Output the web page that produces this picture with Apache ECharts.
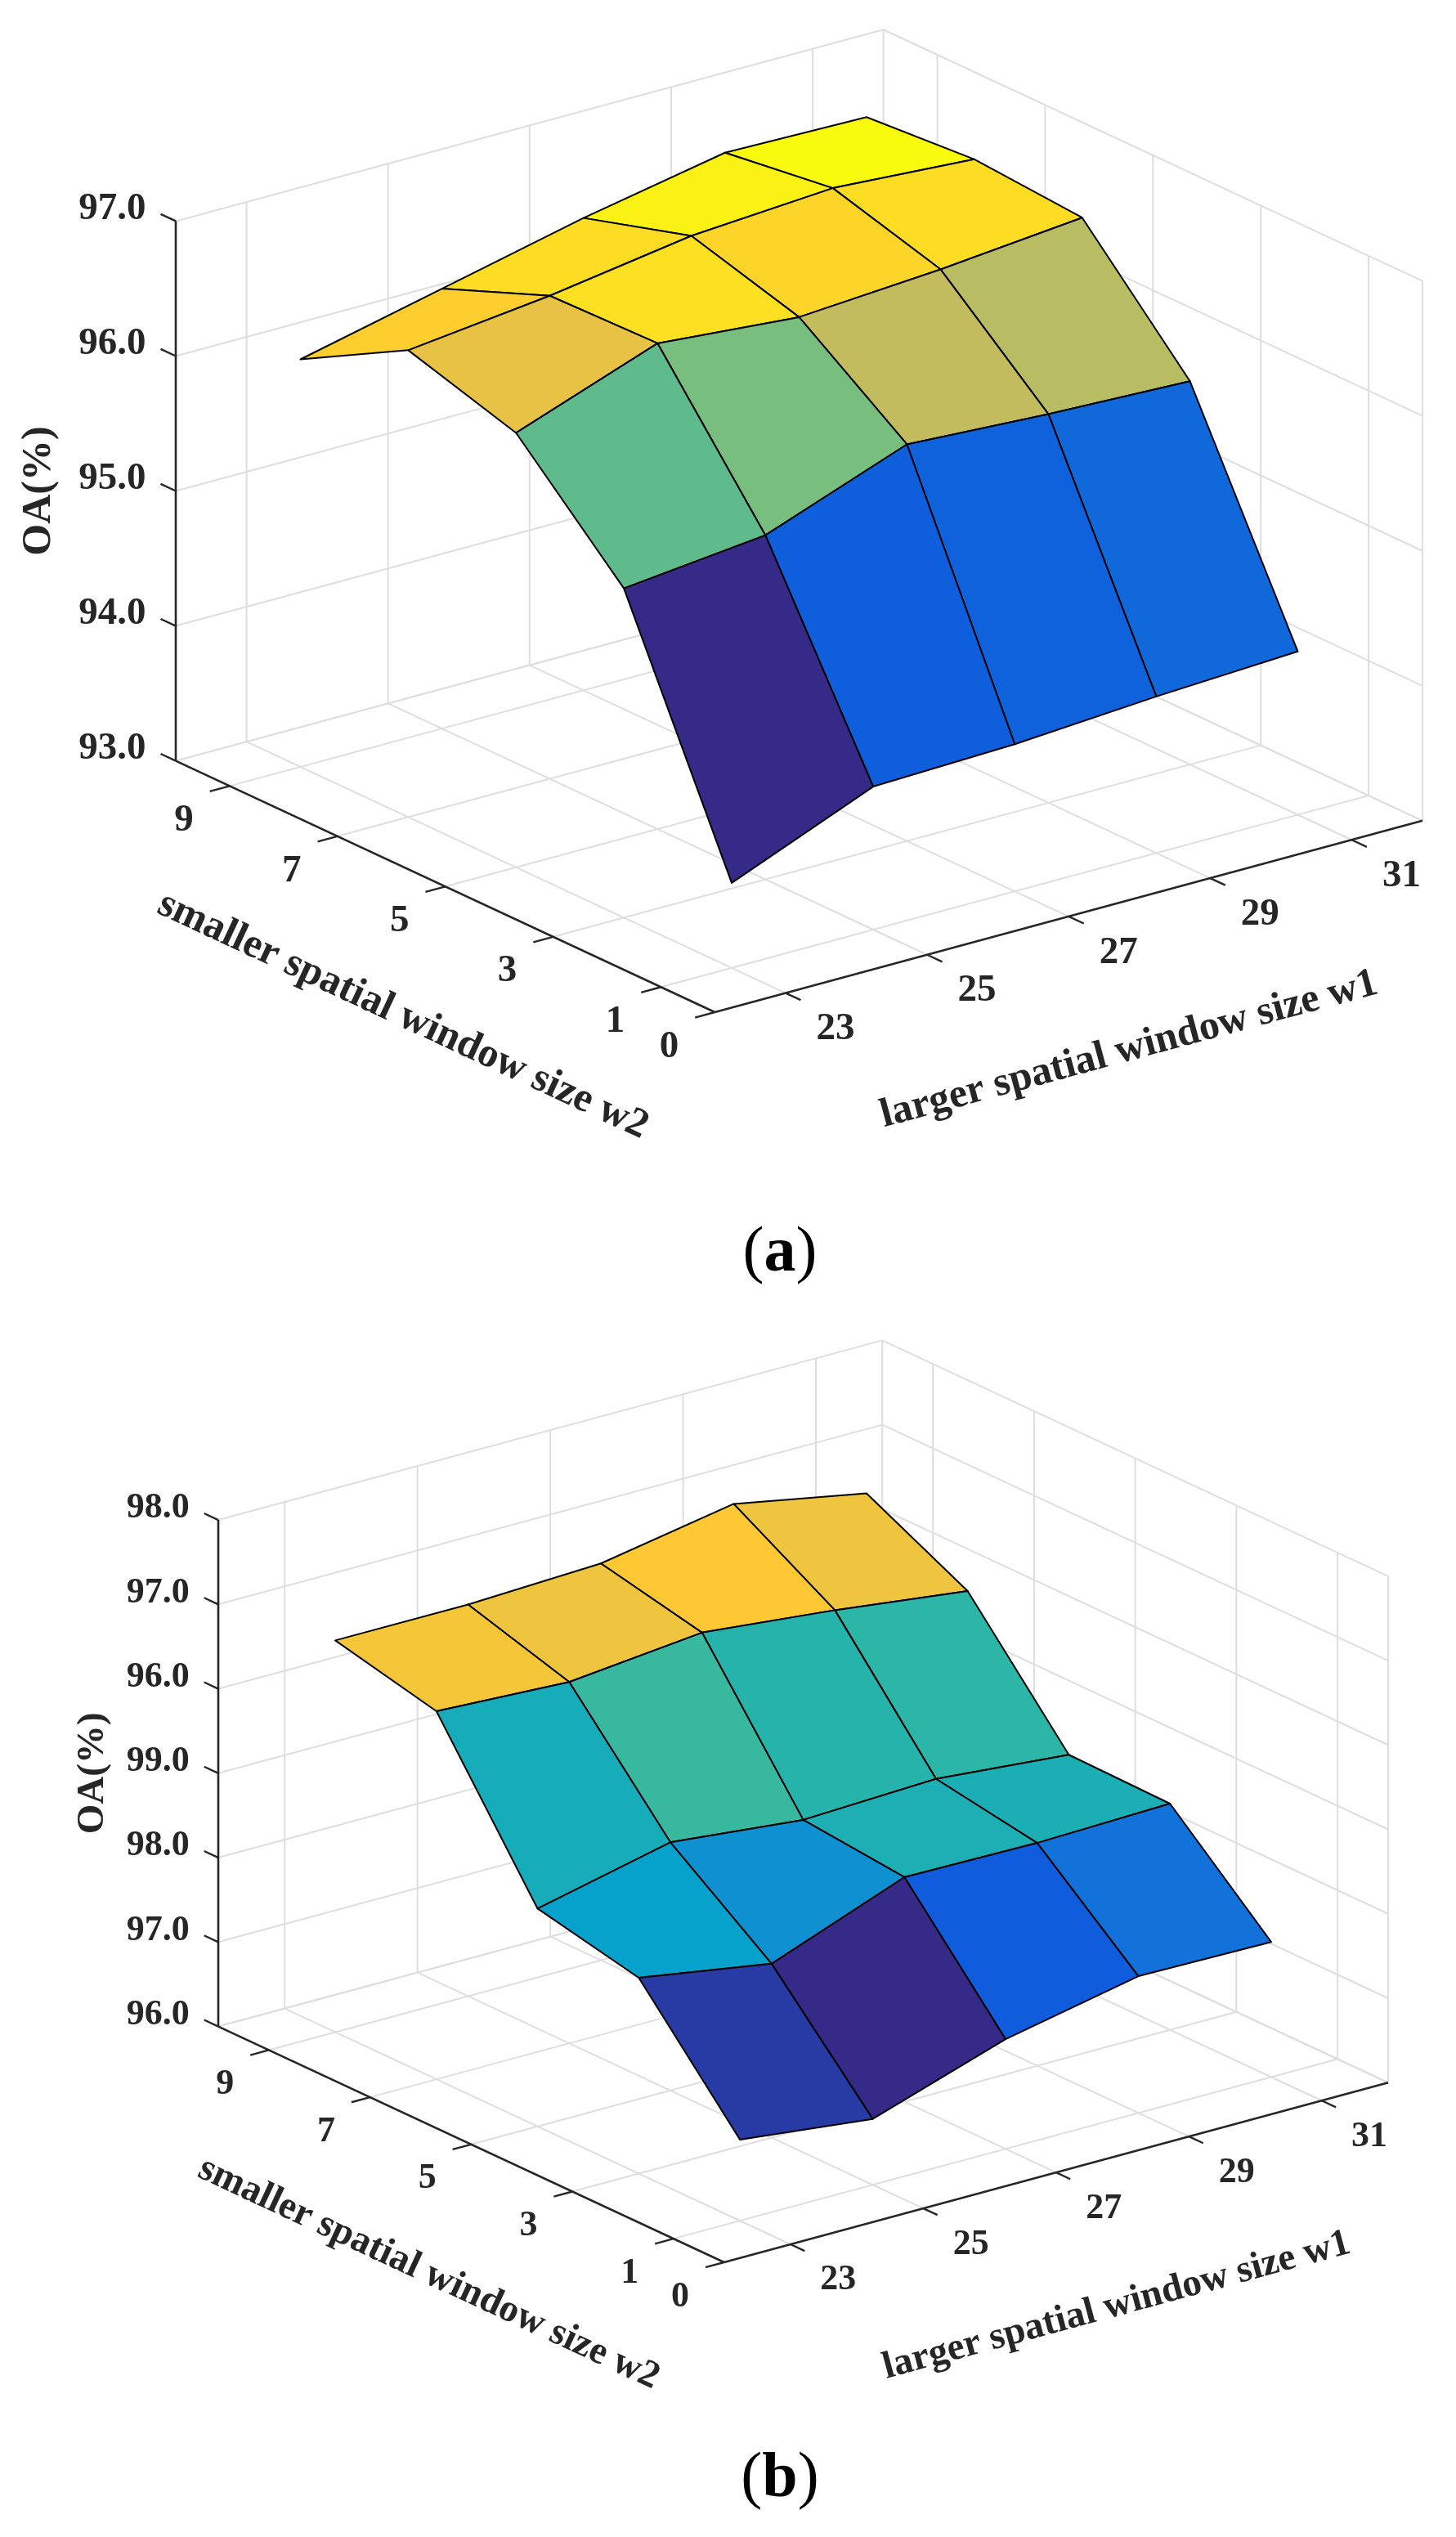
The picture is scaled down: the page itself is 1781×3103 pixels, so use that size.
<!DOCTYPE html>
<html>
<head>
<meta charset="utf-8">
<title>OA surface</title>
<script src="https://cdn.jsdelivr.net/npm/echarts@6/dist/echarts.min.js"></script>
<style>
  html, body { margin: 0; padding: 0; background: #ffffff; }
  #main { width: 1781px; height: 3103px; }
</style>
</head>
<body>
<div id="main"></div>
<script>
// ------------------------------
// Data
// ------------------------------
var w1Values = [23, 25, 27, 29, 31];   // larger spatial window size w1
var w2Values = [1, 3, 5, 7, 9];        // smaller spatial window size w2

// (a) OA(%) rows, one row per w2, along w1
var oaA_w2_1 = [93.63, 94.06, 94.09, 94.16, 94.21];
var oaA_w2_3 = [95.44, 95.55, 95.94, 95.88, 95.84];
var oaA_w2_5 = [96.22, 96.60, 96.51, 96.58, 96.68];
var oaA_w2_7 = [96.46, 96.58, 96.74, 96.81, 96.74];
var oaA_w2_9 = [96.02, 96.26, 96.50, 96.70, 96.68];

// (b) OA(%) rows
var oaB_w2_1 = [96.48, 96.39, 96.65, 96.81, 96.80];
var oaB_w2_3 = [97.16, 97.03, 97.33, 97.32, 97.34];
var oaB_w2_5 = [97.29, 97.47, 97.39, 97.42, 97.35];
var oaB_w2_7 = [98.18, 98.14, 98.22, 98.14, 98.04];
var oaB_w2_9 = [98.32, 98.32, 98.35, 98.49, 98.34];

// ticks
var w1Ticks = [23, 25, 27, 29, 31];
var w2Ticks = [0, 1, 3, 5, 7, 9];
var zTicksA = [93, 94, 95, 96, 97];
var zLabelsA = ['93.0', '94.0', '95.0', '96.0', '97.0'];
var zTicksB = [96, 96.5, 97, 97.5, 98, 98.5, 99];
var zLabelsB = ['96.0', '97.0', '98.0', '99.0', '96.0', '97.0', '98.0'];

// parula colormap
var parula = ['#352a87', '#0f5cdd', '#1481d6', '#06a4ca', '#2eb7a4',
              '#87bf77', '#d1bb59', '#fec832', '#f9fb0e'];

var FONT = '"Liberation Serif", "Times New Roman", serif';
var W1_MIN = 22, W1_MAX = 32, W2_MIN = 0, W2_MAX = 10;

// view (matlab-like orthographic camera)
var AZ = -37.3 * Math.PI / 180;
var EL = 20.8 * Math.PI / 180;
var HZ = 0.649;
var cosA = Math.cos(AZ), sinA = Math.sin(AZ);
var viewW = cosA - sinA;
var viewH = viewW * Math.sin(EL) + HZ * Math.cos(EL);
var TL = 0.028;

var panels = [
    {
        rows: [oaA_w2_1, oaA_w2_3, oaA_w2_5, oaA_w2_7, oaA_w2_9],
        zTicks: zTicksA, zLabels: zLabelsA, zMin: 93, zMax: 97,
        left: 215, bottom: 1238, width: 1525,
        tickFont: 47, titleFont: 50, zTitleDx: -167,
        caption: 'a', captionY: 1534
    },
    {
        rows: [oaB_w2_1, oaB_w2_3, oaB_w2_5, oaB_w2_7, oaB_w2_9],
        zTicks: zTicksB, zLabels: zLabelsB, zMin: 96, zMax: 99,
        left: 267, bottom: 2767, width: 1431,
        tickFont: 44, titleFont: 47, zTitleDx: -153,
        caption: 'b', captionY: 3033
    }
];

function project(p, w1, w2, z) {
    var u = (w1 - W1_MIN) / (W1_MAX - W1_MIN);
    var v = (w2 - W2_MIN) / (W2_MAX - W2_MIN);
    var t = (z - p.zMin) / (p.zMax - p.zMin);
    return [u * cosA + v * sinA,
            (-u * sinA + v * cosA) * Math.sin(EL) + t * HZ * Math.cos(EL)];
}

var grids = [], xAxes = [], yAxes = [], series = [], visualMaps = [], graphics = [];

panels.forEach(function (p, k) {
    var h = p.width * viewH / viewW;
    grids.push({ left: p.left, top: p.bottom - h, width: p.width, height: h });
    xAxes.push({ type: 'value', gridIndex: k, min: sinA, max: cosA, show: false });
    yAxes.push({ type: 'value', gridIndex: k, min: 0, max: viewH, show: false });

    function P(api, w1, w2, z) { return api.coord(project(p, w1, w2, z)); }

    // box grid lines + axis lines
    var segs = [];
    w1Ticks.forEach(function (t) {
        segs.push([0, t, W2_MIN, p.zMin, t, W2_MAX, p.zMin]);
        segs.push([0, t, W2_MAX, p.zMin, t, W2_MAX, p.zMax]);
    });
    w2Ticks.forEach(function (t) {
        if (t !== W2_MIN) segs.push([0, W1_MIN, t, p.zMin, W1_MAX, t, p.zMin]);
        segs.push([0, W1_MAX, t, p.zMin, W1_MAX, t, p.zMax]);
    });
    p.zTicks.forEach(function (t) {
        segs.push([0, W1_MIN, W2_MAX, t, W1_MAX, W2_MAX, t]);
        segs.push([0, W1_MAX, W2_MIN, t, W1_MAX, W2_MAX, t]);
    });
    segs.push([0, W1_MAX, W2_MIN, p.zMin, W1_MAX, W2_MAX, p.zMin]);
    segs.push([0, W1_MIN, W2_MAX, p.zMin, W1_MAX, W2_MAX, p.zMin]);
    segs.push([0, W1_MAX, W2_MAX, p.zMin, W1_MAX, W2_MAX, p.zMax]);
    // dark axes
    segs.push([1, W1_MIN, W2_MAX, p.zMin, W1_MIN, W2_MAX, p.zMax]);
    segs.push([1, W1_MIN, W2_MIN, p.zMin, W1_MIN, W2_MAX, p.zMin]);
    segs.push([1, W1_MIN, W2_MIN, p.zMin, W1_MAX, W2_MIN, p.zMin]);

    series.push({
        type: 'custom', xAxisIndex: k, yAxisIndex: k, z: 1, silent: true,
        data: segs,
        renderItem: function (params, api) {
            var a = P(api, api.value(1), api.value(2), api.value(3));
            var b = P(api, api.value(4), api.value(5), api.value(6));
            var dark = api.value(0) === 1;
            return {
                type: 'line',
                z2: dark ? 5 : 1,
                shape: { x1: a[0], y1: a[1], x2: b[0], y2: b[1] },
                style: { stroke: dark ? '#262626' : '#dedede', lineWidth: dark ? 2.6 : 2 }
            };
        }
    });

    // surface faces, sorted back to front
    var faces = [];
    for (var j = 0; j < w2Values.length - 1; j++) {
        for (var i = 0; i < w1Values.length - 1; i++) {
            var uc = ((w1Values[i] + w1Values[i + 1]) / 2 - W1_MIN) / (W1_MAX - W1_MIN);
            var vc = ((w2Values[j] + w2Values[j + 1]) / 2 - W2_MIN) / (W2_MAX - W2_MIN);
            faces.push({ value: [i, j, p.rows[j][i]], depth: -uc * sinA + vc * cosA });
        }
    }
    faces.sort(function (a, b) { return b.depth - a.depth; });

    var allZ = [].concat.apply([], p.rows);
    visualMaps.push({
        type: 'continuous', show: false,
        seriesIndex: series.length, dimension: 2,
        min: Math.min.apply(null, allZ), max: Math.max.apply(null, allZ),
        inRange: { color: parula }
    });
    series.push({
        type: 'custom', xAxisIndex: k, yAxisIndex: k, z: 3, silent: true,
        data: faces.map(function (f) { return f.value; }),
        renderItem: function (params, api) {
            var i = api.value(0), j = api.value(1);
            var pts = [[i, j], [i + 1, j], [i + 1, j + 1], [i, j + 1]].map(function (c) {
                return P(api, w1Values[c[0]], w2Values[c[1]], p.rows[c[1]][c[0]]);
            });
            return {
                type: 'polygon',
                shape: { points: pts },
                style: { fill: api.visual('color'), stroke: '#000000', lineWidth: 2, lineJoin: 'round' }
            };
        }
    });

    // ticks and tick labels
    var ticks = [];
    p.zTicks.forEach(function (t, n) { ticks.push([0, t, n]); });
    w2Ticks.forEach(function (t, n) { ticks.push([1, t, n]); });
    w1Ticks.forEach(function (t, n) { ticks.push([2, t, n]); });

    series.push({
        type: 'custom', xAxisIndex: k, yAxisIndex: k, z: 4, silent: true,
        data: ticks,
        renderItem: function (params, api) {
            var kind = api.value(0), val = api.value(1), n = api.value(2);
            var base, end, text, tx, ty, align;
            if (kind === 0) {
                base = P(api, W1_MIN, W2_MAX, val);
                end = P(api, W1_MIN, W2_MAX + TL * (W2_MAX - W2_MIN), val);
                text = p.zLabels[n]; tx = end[0] - 18; ty = end[1] - 6; align = 'right';
            } else if (kind === 1) {
                base = P(api, W1_MIN, val, p.zMin);
                end = P(api, W1_MIN - TL * (W1_MAX - W1_MIN), val, p.zMin);
                text = String(w2Ticks[n]); tx = end[0] - 20; ty = end[1] + 36; align = 'right';
            } else {
                base = P(api, val, W2_MIN, p.zMin);
                end = P(api, val, W2_MIN - TL * (W2_MAX - W2_MIN), p.zMin);
                text = String(w1Ticks[n]); tx = end[0] + 19; ty = end[1] + 36; align = 'left';
            }
            return {
                type: 'group',
                children: [
                    { type: 'line', shape: { x1: base[0], y1: base[1], x2: end[0], y2: end[1] },
                      style: { stroke: '#262626', lineWidth: 2.4 } },
                    { type: 'text', x: tx, y: ty,
                      style: { text: text, fontSize: p.tickFont, fontWeight: 'bold', fontFamily: FONT,
                               fill: '#262626', align: align, verticalAlign: 'middle' } }
                ]
            };
        }
    });

    // axis titles
    series.push({
        type: 'custom', xAxisIndex: k, yAxisIndex: k, z: 4, silent: true,
        data: [[0], [1], [2]],
        renderItem: function (params, api) {
            var kind = api.value(0), pos, rot, text;
            var F = P(api, W1_MIN, W2_MIN, p.zMin);
            if (kind === 0) {
                var zb = P(api, W1_MIN, W2_MAX, p.zMin), zt = P(api, W1_MIN, W2_MAX, p.zMax);
                pos = [zb[0] + p.zTitleDx, (zb[1] + zt[1]) / 2];
                rot = Math.PI / 2; text = 'OA(%)';
            } else if (kind === 1) {
                var L = P(api, W1_MIN, W2_MAX, p.zMin);
                var m = P(api, W1_MIN, (W2_MIN + W2_MAX) / 2, p.zMin);
                pos = [m[0] - 52, m[1] + 158];
                rot = -Math.atan2(F[1] - L[1], F[0] - L[0]);
                text = 'smaller spatial window size w2';
            } else {
                var R = P(api, W1_MAX, W2_MIN, p.zMin);
                var m2 = P(api, (W1_MIN + W1_MAX) / 2, W2_MIN, p.zMin);
                pos = [m2[0] + 74, m2[1] + 163];
                rot = -Math.atan2(R[1] - F[1], R[0] - F[0]);
                text = 'larger spatial window size w1';
            }
            return {
                type: 'text', x: pos[0], y: pos[1], rotation: rot,
                style: { text: text, fontSize: p.titleFont, fontWeight: 'bold', fontFamily: FONT,
                         fill: '#262626', align: 'center', verticalAlign: 'middle' }
            };
        }
    });

    // sub-figure caption
    graphics.push({
        type: 'text', x: 954, y: p.captionY,
        style: {
            text: '({b|' + p.caption + '})',
            fontSize: 78, fontFamily: FONT, fill: '#000000',
            align: 'center', verticalAlign: 'middle',
            rich: { b: { fontSize: 78, fontFamily: FONT, fontWeight: 'bold', fill: '#000000' } }
        }
    });
});

var myChart = echarts.init(document.getElementById('main'));
myChart.setOption({
    animation: false,
    backgroundColor: '#ffffff',
    grid: grids,
    xAxis: xAxes,
    yAxis: yAxes,
    visualMap: visualMaps,
    series: series,
    graphic: graphics
});
</script>
</body>
</html>
